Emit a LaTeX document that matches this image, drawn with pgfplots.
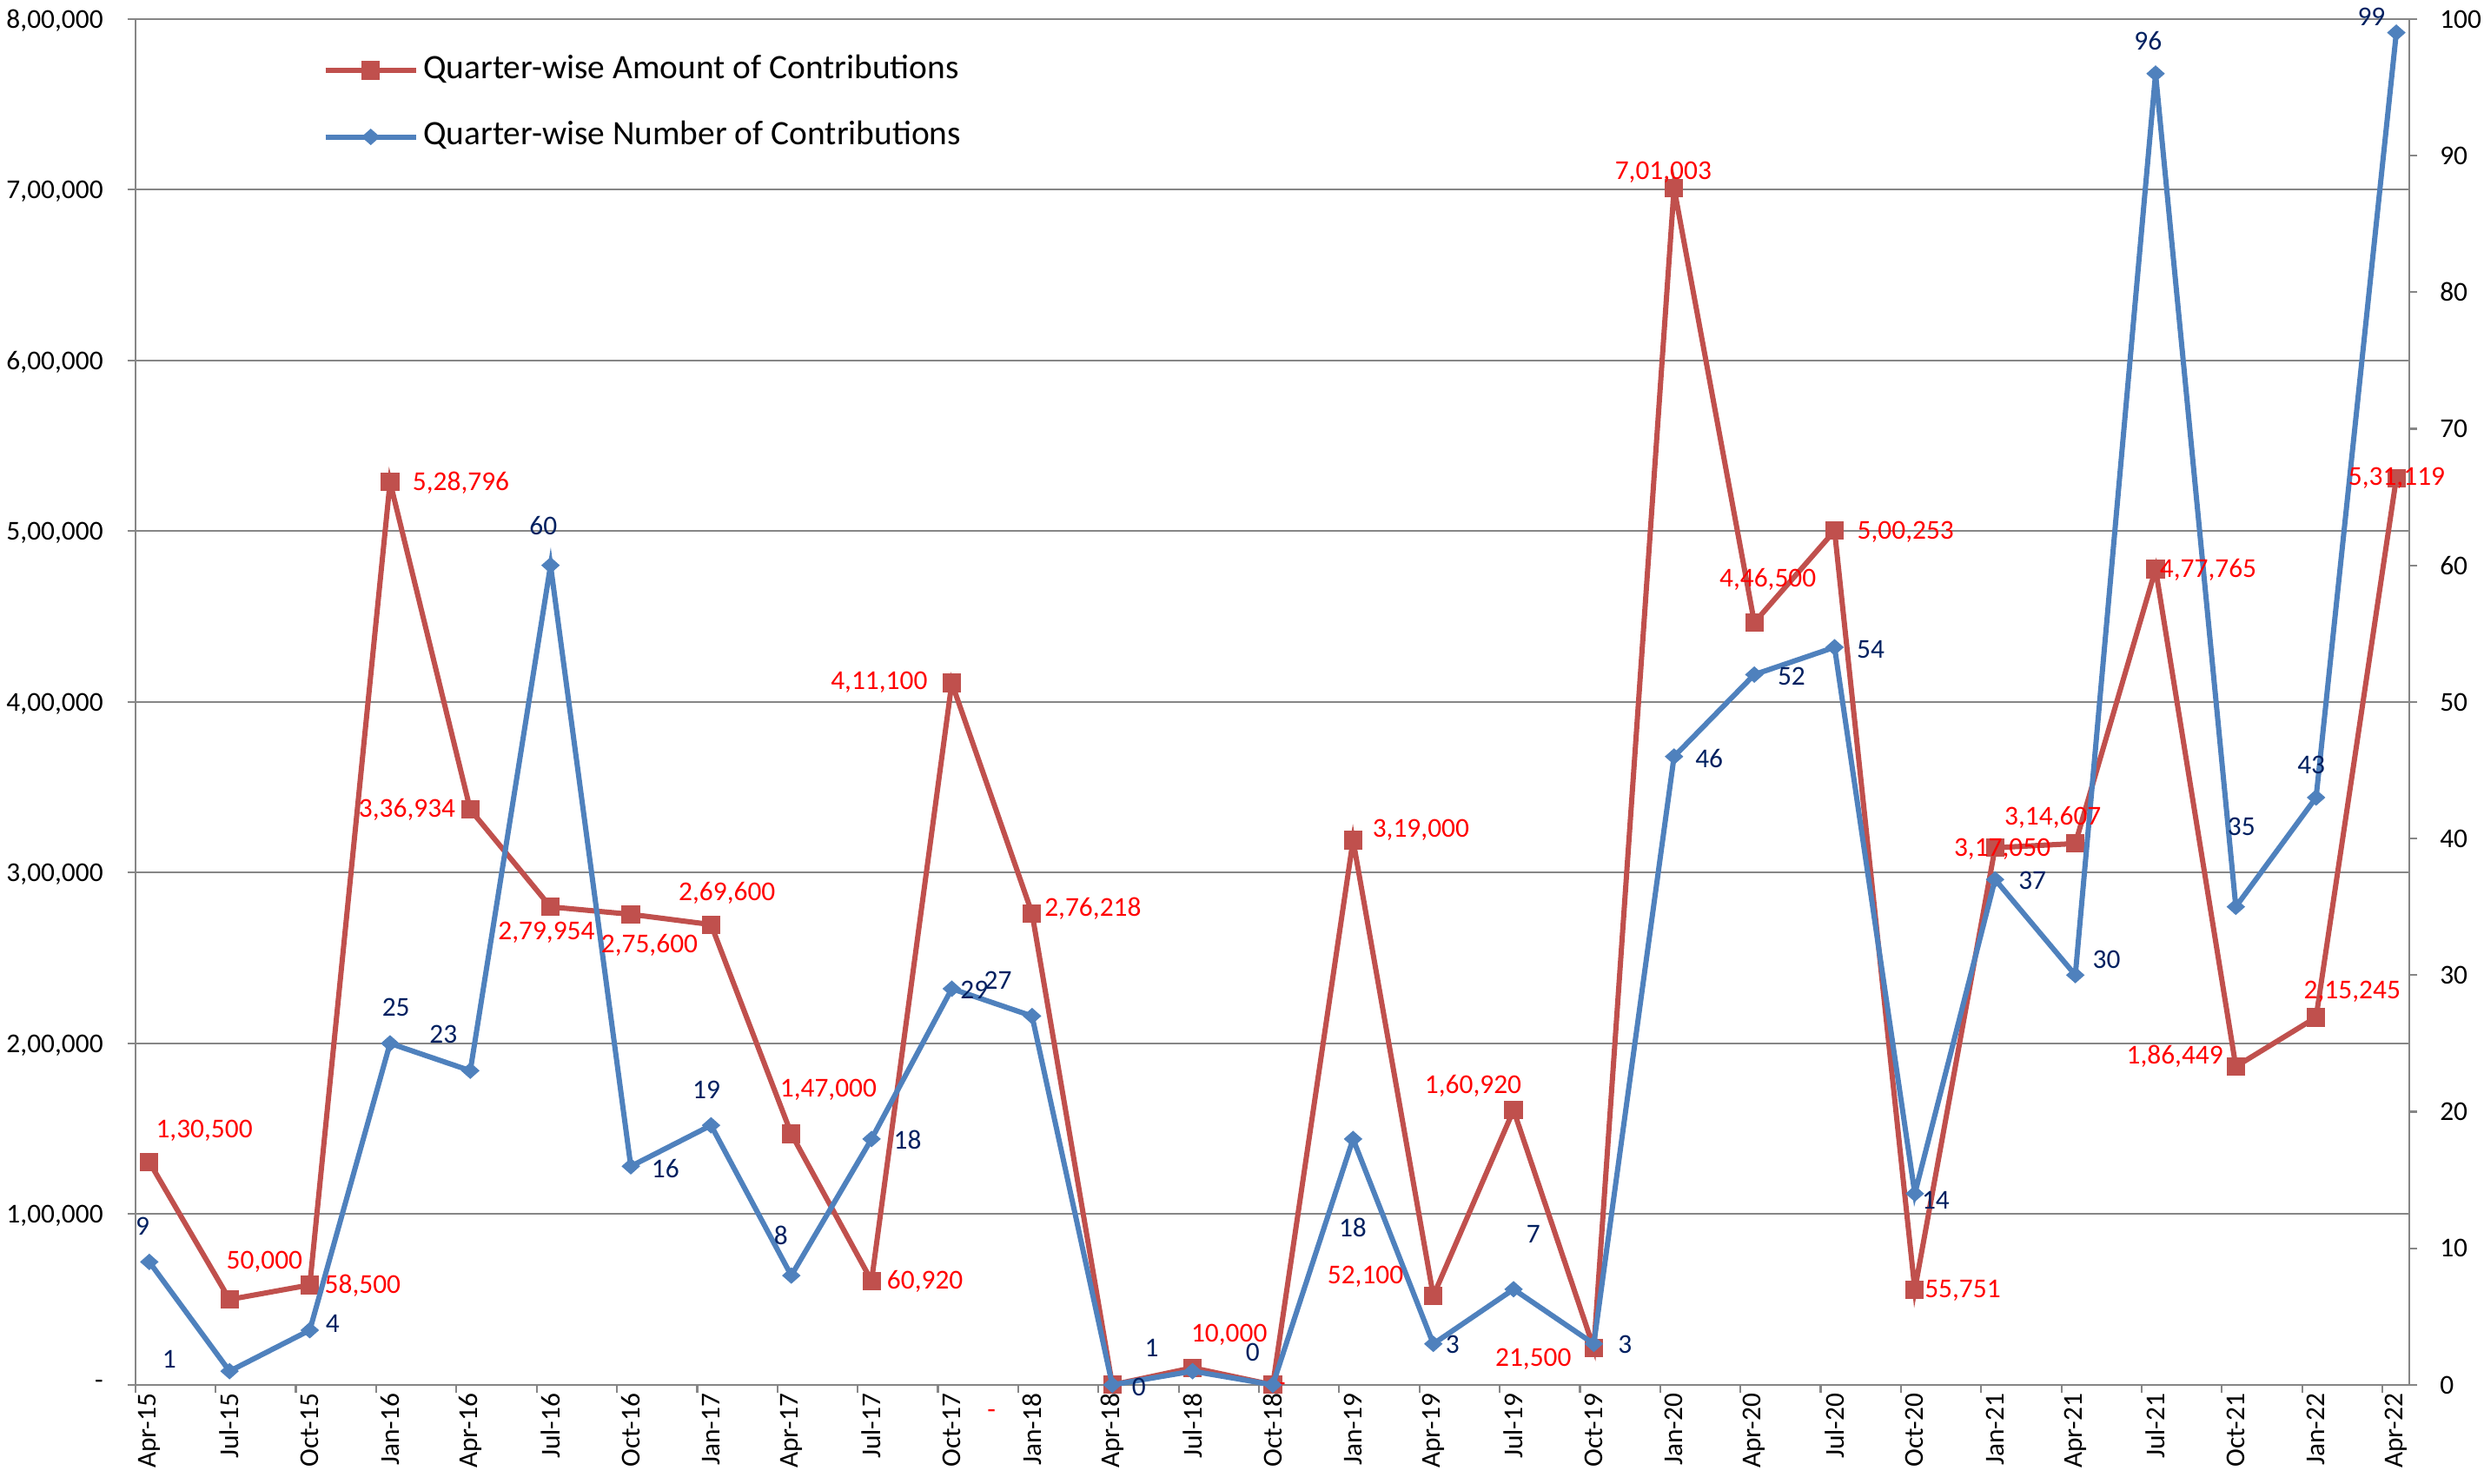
\documentclass[border=0pt]{standalone}
\usepackage{fontspec}
\setmainfont{Carlito}
\usepackage{pgfplots}
\usepackage{pgfplotstable}
\pgfplotsset{compat=1.18}

\definecolor{redline}{HTML}{C0504D}
\definecolor{blueline}{HTML}{4F81BD}
\definecolor{navy}{HTML}{002060}
\definecolor{axgray}{HTML}{868686}
\newcommand{\lab}{\fontsize{8.6}{10}\selectfont}

% quarter index, amount (Rs), number of contributions
\pgfplotstableread{
x amount count
0  130500 9
1  50000  1
2  58500  4
3  528796 25
4  336934 23
5  279954 60
6  275600 16
7  269600 19
8  147000 8
9  60920  18
10 411100 29
11 276218 27
12 0      0
13 10000  1
14 0      0
15 319000 18
16 52100  3
17 160920 7
18 21500  3
19 701003 46
20 446500 52
21 500253 54
22 55751  14
23 314607 37
24 317050 30
25 477765 96
26 186449 35
27 215245 43
28 531119 99
}\contrib

\tikzset{
  rlab/.style={text=red, font=\lab, inner sep=0pt},
  blab/.style={text=navy, font=\lab, inner sep=0pt},
}

\begin{document}
\begin{tikzpicture}
\pgfplotsset{
  every axis/.append style={
    scale only axis, width=717pt, height=430.7pt,
    xmin=-0.173, xmax=28.16,
    tick align=outside, major tick length=2.5pt, minor tick length=2.5pt,
    axis line style={draw=axgray, line width=0.6pt},
    ytick style={draw=axgray, line width=0.6pt},
    clip=false,
  },
}
\begin{axis}[
  ymin=0, ymax=800000,
  axis x line*=bottom, axis y line*=left,
  ytick={0,100000,200000,300000,400000,500000,600000,700000,800000},
  yticklabels={{-\hspace{4.5pt}},{1,00,000},{2,00,000},{3,00,000},{4,00,000},{5,00,000},{6,00,000},{7,00,000},{8,00,000}},
  yticklabel style={inner sep=0pt, xshift=-7.5pt, text depth=0pt, font=\lab},
  ymajorgrids, grid style={draw=axgray, line width=0.6pt},
  xtick={0,...,28},
  xticklabels={Apr-15,Jul-15,Oct-15,Jan-16,Apr-16,Jul-16,Oct-16,Jan-17,Apr-17,Jul-17,Oct-17,Jan-18,Apr-18,Jul-18,Oct-18,Jan-19,Apr-19,Jul-19,Oct-19,Jan-20,Apr-20,Jul-20,Oct-20,Jan-21,Apr-21,Jul-21,Oct-21,Jan-22,Apr-22},
  xticklabel style={rotate=90, anchor=east, inner sep=0pt, font=\lab},
  major x tick style={draw=none},
  minor xtick={-0.173,0.827,...,27.827},
  minor x tick style={draw=axgray, line width=0.6pt},
  legend style={at={(rel axis cs:0.0822,0.978)}, anchor=north west, draw=none, fill=none,
    inner sep=0pt, row sep=8pt, font=\fontsize{10.8}{13}\selectfont,
    nodes={inner sep=1.5pt, text depth=.25em, text height=.75em}},
  legend cell align=left,
  legend image code/.code={\draw[mark repeat=2,mark phase=2,#1] plot coordinates {(0pt,0pt) (14.25pt,0pt) (28.5pt,0pt)};},
]
\coordinate (bl) at (rel axis cs:0,0);
\coordinate (tr) at (rel axis cs:1,1);
\addplot[redline, line width=1.65pt, mark=square*, mark size=2.75pt, mark options={line width=0.3pt}]
  table[x=x, y=amount]{\contrib};
\addlegendentry{Quarter-wise Amount of Contributions}
\addlegendimage{blueline, line width=1.65pt, mark=diamond*, mark size=2.4pt, mark options={line width=0.3pt, xscale=1.5}}
\addlegendentry{Quarter-wise Number of Contributions}
\end{axis}

\begin{axis}[
  ymin=0, ymax=100,
  axis y line*=right, axis x line=none,
  ytick={0,10,...,100},
  yticklabel style={inner sep=0pt, xshift=7pt, anchor=west, text depth=0pt, font=\lab},
  /pgf/number format/assume math mode=true,
]
\addplot[blueline, line width=1.65pt, mark=diamond*, mark size=2.4pt, mark options={line width=0.3pt, xscale=1.5}]
  table[x=x, y=count]{\contrib};

% amount labels
\node[rlab] at (axis cs:0.685,18.60) {1,30,500};
\node[rlab] at (axis cs:1.435,8.98) {50,000};
\node[rlab] at (axis cs:2.659,7.24) {58,500};
\node[rlab] at (axis cs:3.883,66.03) {5,28,796};
\node[rlab] at (axis cs:3.212,42.14) {3,36,934};
\node[rlab] at (axis cs:4.949,33.10) {2,79,954};
\node[rlab] at (axis cs:6.232,32.17) {2,75,600};
\node[rlab] at (axis cs:7.199,36.00) {2,69,600};
\node[rlab] at (axis cs:8.462,21.62) {1,47,000};
\node[rlab] at (axis cs:9.666,7.58) {60,920};
\node[rlab] at (axis cs:9.094,51.42) {4,11,100};
\node[rlab] at (axis cs:11.758,34.84) {2,76,218};
\node[rlab] at (axis cs:10.495,-2.16) {-};
\node[rlab] at (axis cs:13.456,3.64) {10,000};
\node[rlab] at (axis cs:14.107,-0.19) {-};
\node[rlab] at (axis cs:15.845,40.64) {3,19,000};
\node[rlab] at (axis cs:15.154,7.93) {52,100};
\node[rlab] at (axis cs:16.496,21.85) {1,60,920};
\node[rlab] at (axis cs:17.246,1.90) {21,500};
\node[rlab] at (axis cs:18.865,88.76) {7,01,003};
\node[rlab] at (axis cs:20.168,58.96) {4,46,500};
\node[rlab] at (axis cs:21.885,62.44) {5,00,253};
\node[rlab] at (axis cs:22.596,6.89) {55,751};
\node[rlab] at (axis cs:23.09,39.24) {3,17,050};
\node[rlab] at (axis cs:23.72,41.56) {3,14,607};
\node[rlab] at (axis cs:25.655,59.65) {4,77,765};
\node[rlab] at (axis cs:25.24,24.05) {1,86,449};
\node[rlab] at (axis cs:27.45,28.81) {2,15,245};
\node[rlab] at (axis cs:28.004,66.38) {5,31,119};

% count labels
\node[blab] at (axis cs:-0.085,11.64) {9};
\node[blab] at (axis cs:0.25,1.90) {1};
\node[blab] at (axis cs:2.285,4.45) {4};
\node[blab] at (axis cs:3.073,27.65) {25};
\node[blab] at (axis cs:3.665,25.68) {23};
\node[blab] at (axis cs:4.91,62.90) {60};
\node[blab] at (axis cs:6.43,15.82) {16};
\node[blab] at (axis cs:6.942,21.62) {19};
\node[blab] at (axis cs:7.87,10.95) {8};
\node[blab] at (axis cs:9.449,17.91) {18};
\node[blab] at (axis cs:10.28,28.92) {29};
\node[blab] at (axis cs:10.574,29.62) {27};
\node[blab] at (axis cs:12.33,-0.19) {0};
\node[blab] at (axis cs:12.49,2.71) {1};
\node[blab] at (axis cs:13.75,2.37) {0};
\node[blab] at (axis cs:14.996,11.53) {18};
\node[blab] at (axis cs:16.24,2.95) {3};
\node[blab] at (axis cs:17.246,11.06) {7};
\node[blab] at (axis cs:18.39,2.95) {3};
\node[blab] at (axis cs:19.437,45.85) {46};
\node[blab] at (axis cs:20.463,51.89) {52};
\node[blab] at (axis cs:21.45,53.86) {54};
\node[blab] at (axis cs:22.26,13.50) {14};
\node[blab] at (axis cs:23.465,36.92) {37};
\node[blab] at (axis cs:24.39,31.13) {30};
\node[blab] at (axis cs:24.906,98.39) {96};
\node[blab] at (axis cs:26.07,40.87) {35};
\node[blab] at (axis cs:26.94,45.39) {43};
\node[blab] at (axis cs:27.69,100.13) {99};
\end{axis}
\pgfresetboundingbox
\path[use as bounding box] ([xshift=-42.7pt,yshift=-31.2pt]bl) rectangle ([xshift=23.6pt,yshift=6pt]tr);
\end{tikzpicture}
\end{document}
